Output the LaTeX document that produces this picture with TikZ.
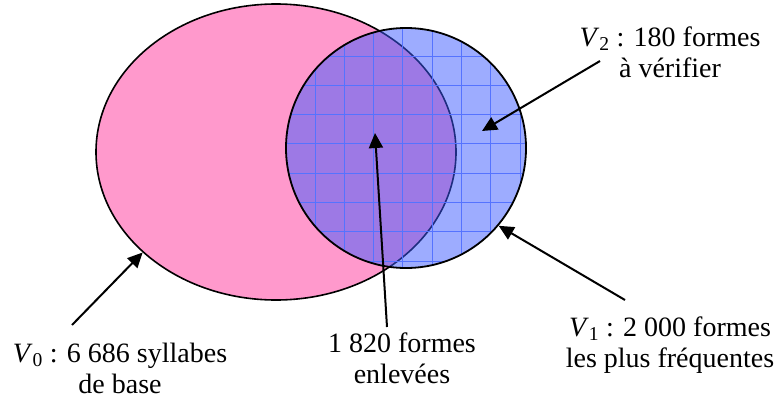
\documentclass[tikz,border=0pt]{standalone}
\usepackage{fontspec}
\setmainfont{Liberation Serif}
\usetikzlibrary{arrows.meta,shapes.geometric}

\definecolor{pinkfill}{RGB}{255,153,204}
\definecolor{circfill}{RGB}{60,90,255}
\definecolor{gridblue}{RGB}{85,115,255}

\begin{document}
\begin{tikzpicture}[x=1pt, y=-1pt, >={Triangle[length=15pt,width=14pt]},
                    line width=2pt]
  \tikzstyle{lbl}=[align=center, anchor=base, inner sep=0pt,
                   font=\fontsize{28}{31}\selectfont]
  \tikzstyle{gridline}=[draw=gridblue, line width=1pt]

  \useasboundingbox (0,0) rectangle (783,399);

	% the two sets
	\node[ellipse, minimum width=360pt, minimum height=296pt,
	      fill=pinkfill, draw=black, line width=1.6pt]	(e0) at (276,152)	{};
	\node[circle, minimum size=240pt, fill=circfill,
	      fill opacity=.5]								(c1) at (406,148)	{};
	\begin{scope}
	  \clip (c1.center) circle (120pt);
	  \foreach \i in {0,...,8}
	    \draw[gridline] ({285.7+29.3*\i},20) -- ({285.7+29.3*\i},280)
	                    (280,{26.7+29.3*\i}) -- (530,{26.7+29.3*\i});
	\end{scope}
	\draw[line width=1.8pt] (c1.center) circle (120pt);

	% labels (base = last line)
	\node[lbl]	(v0)	at (120,393)	{\textit{V}\textsubscript{0} : 6 686 syllabes\\de base};
	\node[lbl]	(rem)	at (402,383)	{1 820 formes\\enlevées};
	\node[lbl]	(v1)	at (670,367)	{\textit{V}\textsubscript{1} : 2 000 formes\\les plus fréquentes};
	\node[lbl]	(v2)	at (670,77)		{\textit{V}\textsubscript{2} : 180 formes\\à vérifier};

	% arrow ends
	\coordinate	(t0)	at (72,325);
	\coordinate	(t1)	at (625,300);
	\coordinate	(t2)	at (600,61);
	\coordinate	(tr)	at (387,327);
	\coordinate	(h2)	at (482,131);
	\coordinate	(hr)	at (375,133);

	\path[->]
    (t0) edge []	node {} (e0.217)
    (tr) edge []	node {} (hr)
    (t2) edge []	node {} (h2)
    (t1) edge []	node {} (c1.-40);

\end{tikzpicture}
\end{document}
